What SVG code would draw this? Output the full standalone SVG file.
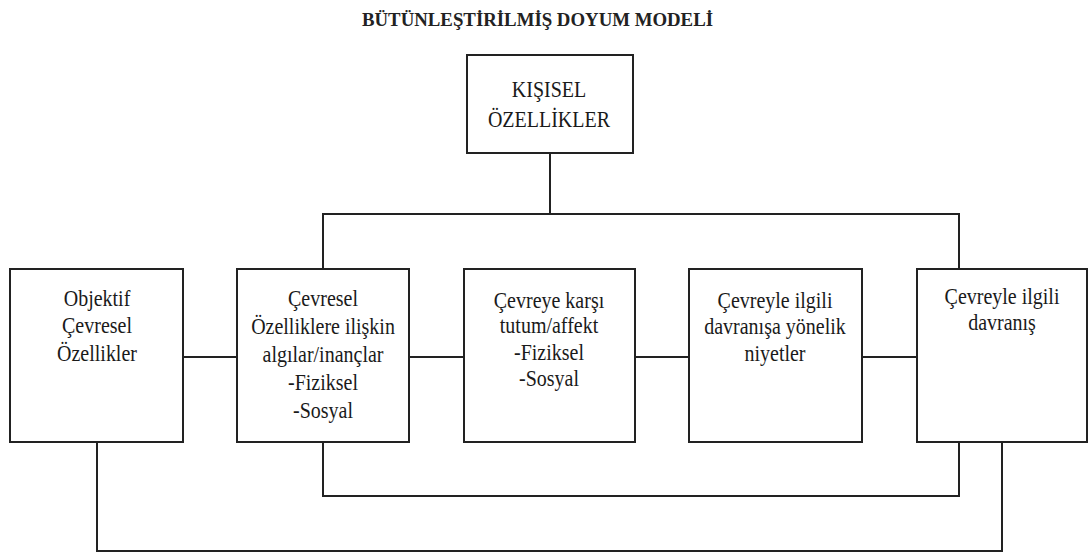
<svg xmlns="http://www.w3.org/2000/svg" width="1089" height="554" viewBox="0 0 1089 554">
<style>
.box{fill:#fff;stroke:#222;stroke-width:2}
.ln{fill:none;stroke:#222;stroke-width:2}
.lbl{font-family:'Liberation Serif','Times New Roman',serif;font-size:20px;fill:#1a1a1a;text-anchor:middle}
.title{font-family:'Liberation Serif','Times New Roman',serif;font-size:18px;font-weight:bold;fill:#222}
</style>
<rect width="1089" height="554" fill="#fff"/>
<text class="title" x="362" y="26" textLength="351" lengthAdjust="spacingAndGlyphs">BÜTÜNLEŞTİRİLMİŞ DOYUM MODELİ</text>
<g id="connectors">
<path class="ln" d="M550 153 V214"/>
<path class="ln" d="M323 269 V214 H959 V269"/>
<path class="ln" d="M183 357 H237"/>
<path class="ln" d="M409 357 H464"/>
<path class="ln" d="M635 357 H689"/>
<path class="ln" d="M862 357 H917"/>
<path class="ln" d="M323 442 V496 H959 V442"/>
<path class="ln" d="M97 442 V551 H1002 V442"/>
</g>
<g id="kisisel">
<rect class="box" x="467" y="55" width="166" height="98"/>
<text class="lbl" transform="translate(549 97) scale(1 1.18)">KIŞISEL</text>
<text class="lbl" transform="translate(549 127) scale(1 1.18)">ÖZELLİKLER</text>
</g>
<g id="objektif">
<rect class="box" x="10" y="269" width="173" height="173"/>
<text class="lbl" transform="translate(97 306) scale(1 1.18)">Objektif</text>
<text class="lbl" transform="translate(97 333) scale(1 1.18)">Çevresel</text>
<text class="lbl" transform="translate(97 361) scale(1 1.18)">Özellikler</text>
</g>
<g id="algilar">
<rect class="box" x="237" y="269" width="172" height="173"/>
<text class="lbl" transform="translate(323 306) scale(1 1.18)">Çevresel</text>
<text class="lbl" transform="translate(323 334) scale(1 1.18)">Özelliklere ilişkin</text>
<text class="lbl" transform="translate(323 362) scale(1 1.18)">algılar/inançlar</text>
<text class="lbl" transform="translate(323 390) scale(1 1.18)">-Fiziksel</text>
<text class="lbl" transform="translate(323 418) scale(1 1.18)">-Sosyal</text>
</g>
<g id="tutum">
<rect class="box" x="464" y="269" width="171" height="173"/>
<text class="lbl" transform="translate(549 308) scale(1 1.18)">Çevreye karşı</text>
<text class="lbl" transform="translate(549 333) scale(1 1.18)">tutum/affekt</text>
<text class="lbl" transform="translate(549 360) scale(1 1.18)">-Fiziksel</text>
<text class="lbl" transform="translate(549 386) scale(1 1.18)">-Sosyal</text>
</g>
<g id="niyetler">
<rect class="box" x="689" y="269" width="173" height="173"/>
<text class="lbl" transform="translate(775 308) scale(1 1.18)">Çevreyle ilgili</text>
<text class="lbl" transform="translate(775 334) scale(1 1.18)">davranışa yönelik</text>
<text class="lbl" transform="translate(775 361) scale(1 1.18)">niyetler</text>
</g>
<g id="davranis">
<rect class="box" x="917" y="269" width="170" height="173"/>
<text class="lbl" transform="translate(1002 304) scale(1 1.18)">Çevreyle ilgili</text>
<text class="lbl" transform="translate(1002 330) scale(1 1.18)">davranış</text>
</g>
</svg>
